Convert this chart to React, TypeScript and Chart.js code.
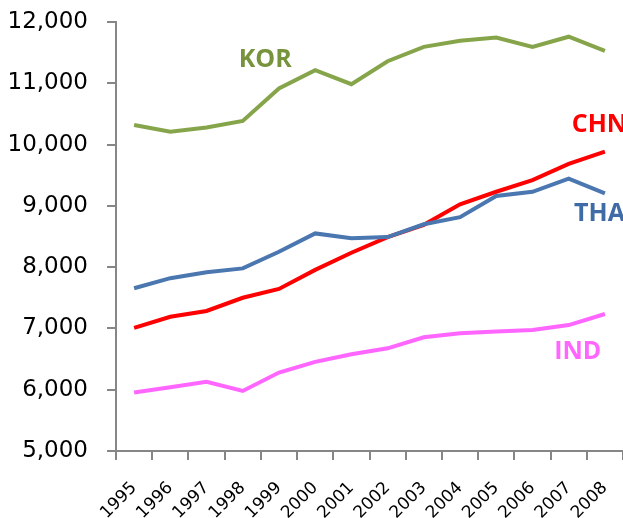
import React, { useEffect, useRef } from "react";
import { Chart, registerables } from "chart.js";

Chart.register(...registerables);

const years = ["1995","1996","1997","1998","1999","2000","2001","2002","2003","2004","2005","2006","2007","2008"];
const kor = [10320, 10210, 10280, 10385, 10915, 11215, 10985, 11360, 11595, 11695, 11745, 11595, 11760, 11530];
const tha = [7655, 7820, 7915, 7980, 8250, 8550, 8470, 8490, 8700, 8815, 9160, 9230, 9445, 9205];
const chn = [7010, 7190, 7285, 7500, 7645, 7955, 8235, 8490, 8690, 9025, 9230, 9420, 9685, 9885];
const ind = [5955, 6040, 6130, 5980, 6280, 6455, 6580, 6675, 6855, 6920, 6950, 6975, 7055, 7235];

const seriesNames = ["KOR", "THA", "CHN", "IND"];
const lineColors = ["#86A54B", "#4A77AF", "#FF0000", "#FF66FF"];
const labelColors = ["#77933C", "#3F6CA6", "#FF0000", "#FF66FF"];
// label anchor positions in data coordinates (category index, value)
const labelX = [3.62, 12.85, 12.85, 12.25];
const labelY = [11415, 8905, 10355, 6650];

const yMin = 5000;
const yMax = 12000;
const yStep = 1000;

const labelPlugin = {
  id: "seriesLabels",
  afterDatasetsDraw(chart: any) {
    const { ctx, scales } = chart;
    const xs = scales.x;
    const ys = scales.y;
    ctx.save();
    ctx.font = "bold 25px 'Open Sans'";
    ctx.textAlign = "center";
    ctx.textBaseline = "alphabetic";
    seriesNames.forEach((name, i) => {
      const x = xs.getPixelForValue(labelX[i]);
      const y = ys.getPixelForValue(labelY[i]);
      ctx.fillStyle = labelColors[i];
      ctx.fillText(name, x, y + 9);
    });
    ctx.restore();
  },
};

export default function App() {
  const ref = useRef<HTMLCanvasElement | null>(null);
  useEffect(() => {
    if (!ref.current) return;
    const data = [kor, tha, chn, ind];
    const chart = new Chart(ref.current, {
      type: "line",
      data: {
        labels: years,
        datasets: seriesNames.map((n, i) => ({
          label: n,
          data: data[i],
          borderColor: lineColors[i],
          backgroundColor: lineColors[i],
          borderWidth: 4,
          pointRadius: 0,
          tension: 0,
          fill: false,
        })),
      },
      options: {
        animation: false,
        responsive: false,
        maintainAspectRatio: false,
        layout: { padding: { top: 22, right: 0, left: 0, bottom: 0 } },
        plugins: { legend: { display: false }, tooltip: { enabled: false } },
        scales: {
          x: {
            offset: true,
            grid: {
              offset: true,
              drawOnChartArea: false,
              drawTicks: true,
              tickLength: 9,
              color: "#868686",
              lineWidth: 2,
            },
            border: { display: true, color: "#868686", width: 2 },
            ticks: {
              maxRotation: 45,
              minRotation: 45,
              autoSkip: false,
              padding: 18,
              color: "#000000",
              font: { family: "'DejaVu Sans'", size: 17 },
            },
            afterFit(scale: any) {
              scale.height = 67;
              scale.paddingLeft = 0;
              scale.paddingRight = 0;
            },
          },
          y: {
            min: yMin,
            max: yMax,
            ticks: {
              stepSize: yStep,
              padding: 19,
              color: "#000000",
              font: { family: "'DejaVu Sans'", size: 23 },
              callback: (v: any) => Number(v).toLocaleString("en-US"),
            },
            grid: {
              drawOnChartArea: false,
              drawTicks: true,
              tickLength: 9,
              color: "#868686",
              lineWidth: 2,
            },
            border: { display: true, color: "#868686", width: 2 },
            afterFit(scale: any) {
              scale.width = 116;
              scale.paddingTop = 0;
              scale.paddingBottom = 0;
            },
          },
        },
      },
      plugins: [labelPlugin],
    });
    return () => chart.destroy();
  }, []);
  return (
    <div style={{ position: "fixed", left: 0, top: 0, width: 623, height: 518, background: "#fff" }}>
      <canvas ref={ref} width={623} height={518} style={{ display: "block" }} />
    </div>
  );
}
